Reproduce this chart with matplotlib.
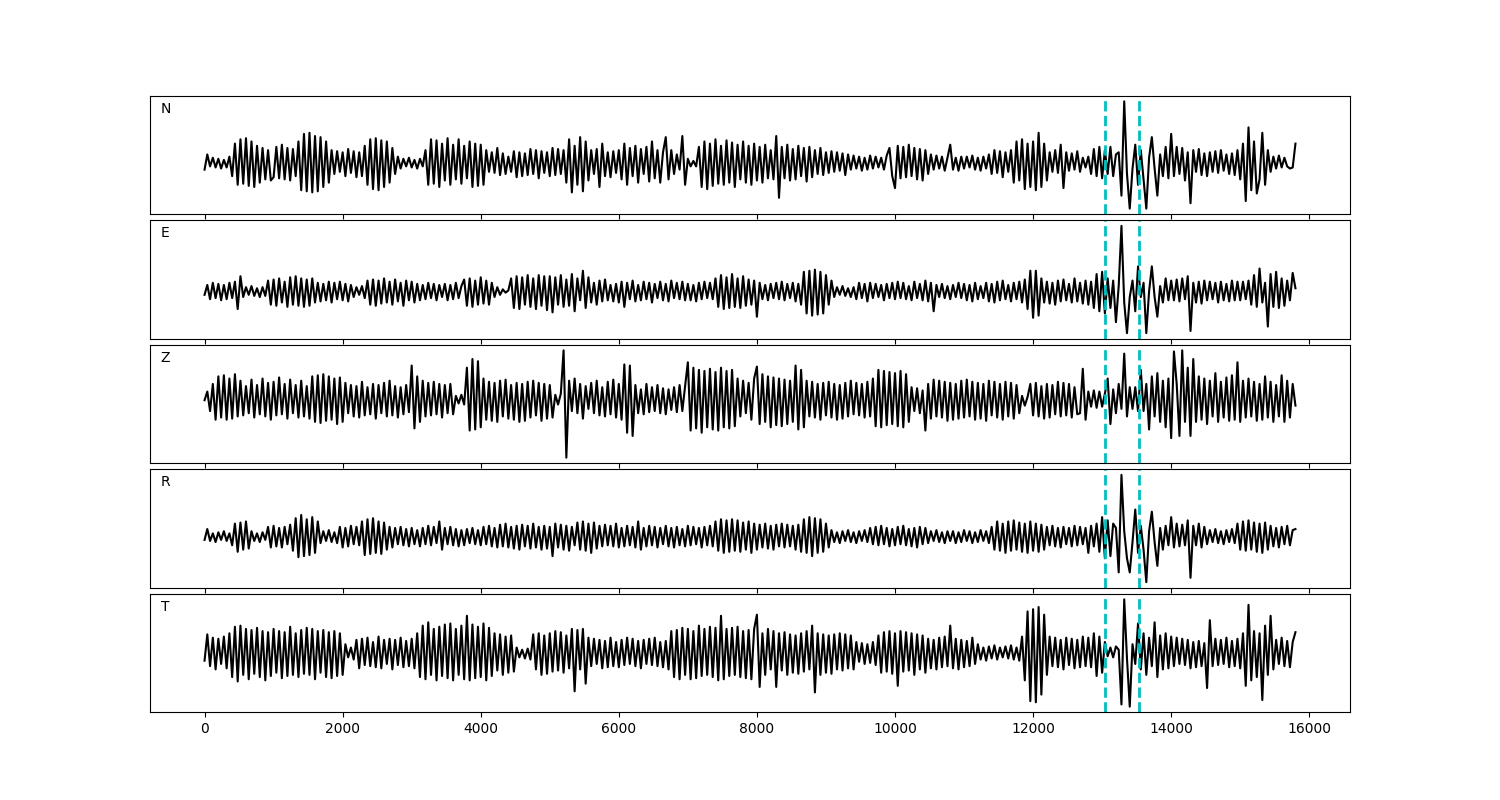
import numpy as np
import matplotlib
matplotlib.use('Agg')
import matplotlib.pyplot as plt

step = 40

# picks (dashed lines)
picks = [13040, 13530]

# component names
comps = ['N', 'E', 'Z', 'R', 'T']

# traces, amplitudes (one row = 1000 samples)
n_trace = [
    -6, 8, -3, 5, -4, 4, -5, 3, -4, 6, -12, 18, -20, 22, -19, 23, -21, 20, -22, 16, -18, 14, -15, 12, -16,
    -13, 15, -14, 17, -15, 14, -16, 13, -12, 20, -25, 27, -26, 28, -27, 25, -26, 24, -22, 20, -18, 12, -10, 11, -8,
    10, -12, 13, -9, 11, -13, 10, -12, 16, -20, 22, -24, 23, -25, 21, -22, 20, -18, 14, -10, 6, -5, 4, -3, 5,
    -4, 3, -5, 4, -3, 12, -20, 22, -19, 21, -22, 18, -16, 23, -20, 17, -15, 22, -19, 16, -14, 20, -22, 18, -21,
    17, -20, 12, -8, 10, -9, 14, -11, 9, -10, 6, -8, 11, -13, 10, -12, 9, -11, 13, -10, 12, -14, 11, -9, 10,
    -12, 14, -11, 13, -10, 12, -18, 22, -27, 16, -20, 24, -26, 20, -16, 12, -10, 13, -22, 18, -12, 10, -13, 11, -9,
    12, -15, 18, -20, 14, -12, 16, -18, 13, -10, 15, -17, 20, -14, 12, -18, 10, 24, -15, 12, -10, 8, -6, 25, -20,
    4, -3, 2, -3, 15, -22, 20, -24, 18, -21, 22, -19, 16, -20, 21, -18, 19, -22, 17, -15, 20, -18, 16, -20, 18,
    -16, 15, -18, 17, -14, 12, -15, 25, -32, 15, -14, 17, -16, 13, -15, 16, -12, 14, -17, 15, -13, 12, -10, 14, -11,
    10, -9, 11, -8, 10, -7, 9, -11, 8, -6, 7, -5, 6, -7, 5, -6, 7, -5, 6, -4, 5, -6, 7, 14, -12,
    -23, 16, -14, 15, -13, 17, -12, 14, -15, 13, -16, 12, -10, 8, -6, 7, -5, 6, -7, 5, 17, -6, 5, -7, 6,
    -5, 6, -4, 7, -6, 5, -7, 6, -5, 8, -10, 12, -9, 11, -13, 10, -8, 12, -18, 20, -16, 22, -24, 18, -22,
    20, -25, 28, -22, 18, -16, 10, -8, 12, -9, 17, -23, 10, -7, 9, -6, 11, -8, 5, -4, 6, -10, 13, -12, 15,
    -14, 12, -10, 15, -12, 8, 10, -30, 57, -10, -42, -5, 17, -20, 12, -15, -42, 5, 24, -5, -30, 8, -12, 15, -14,
    27, -12, 15, -10, 14, -16, 10, -37, 12, -8, 13, -11, 9, -12, 10, -8, 11, -9, 12, -7, 8, -10, 9, -11, 12,
    -15, 18, -35, 33, -25, 20, -28, -15, 28, -20, 12, -8, 6, -5, 7, -4, 5, -3, -5, -4, 18,
]

e_trace = [
    -3, 6, -7, 8, -6, 7, -8, 6, -7, 8, -6, 9, -16, 14, -5, 4, -3, 5, -4, 3, -5, 4, -4, 10, -12,
    11, -13, 12, -10, 9, -14, 13, -12, 14, -13, 12, -14, 11, -13, 12, -10, 8, -9, 7, -8, 9, -10, 8, -7, 9,
    -8, 7, -9, 6, -5, 4, -3, 5, -6, 10, -12, 11, -13, 10, -11, 12, -10, 9, -12, 11, -9, 8, -13, 10, -8,
    9, -10, 7, -8, 6, -7, 8, -6, 7, -8, 6, -5, 7, -8, 6, -7, 8, -6, 5, 11, -13, 12, -14, 10, -12,
    13, -11, 10, -12, 8, -5, 4, -3, 2, -1, 1, 12, -15, 14, -16, 13, -12, 15, -14, 12, -16, 15, -13, 14, -17,
    14, -19, 13, -12, 15, -14, 11, -13, 16, -18, 12, -8, 19, -15, 13, -10, 8, -12, 10, -9, 11, -8, 6, -9, 7,
    -10, 9, -14, 8, -7, 10, -9, 6, -8, 9, -7, 8, -10, 7, -6, 9, -8, 7, -9, 10, -6, 8, -7, 9, -8,
    7, -8, 6, -9, 8, -7, 9, -6, 8, -7, 12, -14, 15, -16, 13, -15, 16, -14, 12, -15, 14, -13, 11, -12, 10,
    -23, 8, -7, 6, -8, 7, -6, 8, -7, 9, -8, 7, -6, 8, -9, 7, -12, 18, -20, 19, -22, 20, -21, 18, -20,
    15, -12, 10, -5, 4, -3, 5, -4, 3, -5, 4, -7, 8, -6, 7, -9, 8, -6, 7, -5, 6, -8, 7, -6, 8,
    -7, 9, -6, 8, -7, 5, -8, 9, -6, 7, -8, 10, -9, 8, -18, 6, -5, 7, -6, 5, -7, 6, -5, 8, -6,
    7, -8, 6, -9, 8, -7, 5, -6, 8, -9, 7, -10, 9, -8, 10, -7, 6, -9, 8, -7, 9, -10, 11, -16, 19,
    -24, 19, -22, 12, -10, 9, -11, 8, -12, 10, -9, 11, -8, 7, -10, 12, -9, 8, -11, 10, -12, 9, -15, 16, -18,
    18, -20, 12, -15, 10, -28, 5, 60, -10, -38, -5, 10, -18, 23, -5, 8, -38, 0, 23, -5, -23, 5, -10, 12, -8,
    10, -8, 11, -9, 12, -7, 14, -36, 8, -10, 9, -11, 10, -8, 9, -7, 8, -10, 9, -8, 7, -9, 10, -8, 9,
    -8, 9, -7, 10, -12, 15, -14, 21, -10, 8, -32, 16, -14, 18, -15, 12, -13, 10, -8, 17, 3,
]

z_trace = [
    0, 8, -10, 15, -18, 22, -16, 23, -18, 20, -17, 24, -15, 18, -14, 13, -12, 19, -16, 14, -13, 20, -15, 16, -18,
    17, -14, 21, -13, 15, -17, 19, -12, 14, -16, 18, -15, 13, -17, 22, -20, 23, -21, 24, -19, 22, -18, 20, -22, 21,
    -20, 16, -12, 14, -15, 13, -16, 17, -14, 12, -13, 15, -17, 14, -12, 16, -15, 18, -14, 13, -16, 12, -13, 14, -11,
    32, -26, 22, -20, 18, -15, 16, -14, 17, -13, 15, -16, 14, -12, 15, -13, 4, -3, 5, -4, 30, -28, 38, -27, 36,
    -25, 20, -18, 17, -19, 16, -20, 18, -15, 19, -17, 14, -18, 16, -20, 15, -19, 17, -16, 18, -14, 16, -19, 15, -17,
    14, -16, 5, -4, 6, 46, -53, 18, -10, 20, -12, 15, -17, 13, -8, 16, -12, 18, -14, 12, -15, 17, -13, 19, -16,
    15, -18, 33, -30, 32, -33, 14, -12, 10, -13, 15, -11, 12, -10, 14, -12, 11, -13, 10, -9, 12, -11, 14, -10, 13,
    35, -28, 30, -26, 28, -30, 27, -25, 29, -27, 26, -28, 30, -25, 27, -26, 28, -24, 20, -15, 18, -12, 16, -18, 20,
    31, -22, 24, -20, 22, -25, 21, -23, 20, -24, 19, -22, 18, -20, 32, -27, 28, -25, 18, -15, 17, -16, 15, -18, 16,
    -14, 17, -16, 15, -18, 14, -17, 16, -15, 18, -13, 16, -14, 15, -16, 17, -15, 20, -24, 28, -25, 27, -23, 26, -22,
    25, -24, 27, -25, 24, -20, 12, -10, 11, -12, 9, -28, 15, -17, 19, -15, 18, -16, 17, -19, 16, -18, 15, -17, 18,
    -16, 19, -15, 17, -18, 16, -17, 15, -19, 18, -14, 17, -16, 15, -18, 17, -15, 16, -17, 14, -12, 4, -5, 3, 15,
    -14, 16, -15, 13, -17, 15, -16, 14, -13, 17, -15, 16, -14, 15, -16, 12, -13, -12, 29, -18, 8, -6, 9, -7, 8,
    -6, 6, 20, -22, 10, -12, 15, -8, 43, -15, 12, -8, 12, -10, 28, -10, 15, -27, 22, -15, 25, -20, 18, -25, 20,
    -35, 45, 15, -33, 46, -20, 30, -33, 38, -20, 22, -18, 20, -22, 18, -15, 25, -20, 17, -16, 21, -19, 23, -18, 35,
    -20, 18, -16, 20, -15, 17, -19, 15, -18, 22, -16, 17, -20, 14, -15, 23, -20, 18, -16, 15, -5,
]

r_trace = [
    -3, 7, -4, 3, -5, 4, -3, 5, -4, 3, -8, 12, -14, 13, -12, 14, -11, 5, -4, 3, -5, 4, -3, 9, -10,
    10, -9, 8, -10, 9, -7, 11, -13, 17, -19, 20, -18, 16, -17, 18, -15, 14, -6, 5, -4, 6, -5, 4, -6, 9,
    -10, 8, -9, 10, -7, 9, -8, 14, -17, 16, -16, 17, -15, 14, -16, 13, -12, 9, -10, 8, -7, 9, -8, 7, -9,
    8, -7, 6, -9, 8, -7, 10, -8, 9, -6, 14, -12, 8, -7, 9, -8, 7, -9, 6, -8, 7, -6, 8, -7, 6,
    -8, 9, -7, 10, -9, 8, -10, 11, -9, 12, -10, 9, -11, 10, -12, 11, -9, 10, -11, 12, -10, 9, -12, 10, -11,
    9, -18, 12, -10, 11, -12, 10, -13, 9, -8, 13, -12, 14, -13, 12, -15, 13, -11, 10, -9, 11, -8, 10, -9, 12,
    -10, 8, -9, 10, -8, 9, -10, 14, -12, 8, -9, 10, -8, 9, -10, 8, -7, 10, -9, 8, -10, 9, -8, 7, -9,
    10, -8, 9, -7, 8, -10, 9, -8, 10, -9, 14, -13, 16, -15, 15, -14, 16, -13, 15, -14, 13, -12, 14, -15, 12,
    -12, 11, -10, 12, -11, 10, -12, 11, -9, 12, -10, 11, -9, 10, -12, 11, -14, 16, -15, 18, -18, 17, -15, 16, -14,
    12, -10, 6, -5, 4, -6, 5, -4, 6, -5, 4, -6, 5, -4, 6, -5, 8, -7, 9, -8, 10, -7, 8, -9, 7,
    -8, 9, -7, 10, -8, 7, -9, 8, -10, 9, -7, 8, -6, 5, -4, 6, -5, 4, -6, 5, -4, 5, -6, 4, -5,
    6, -4, 5, -6, 4, -5, 6, -4, 5, -6, 9, -12, 14, -13, 12, -15, 14, -13, 15, -12, 13, -14, 12, -15, 14,
    -13, 12, -14, 11, -12, 9, -8, 10, -9, 8, -10, 9, -7, 8, -9, 10, -8, 9, -7, 8, -15, 10, -9, 12, -14,
    18, -20, 15, -18, 12, 8, -33, 57, 5, -20, -33, -5, 25, -15, 10, -12, -42, 5, 23, -5, -27, 8, -12, 10, -8,
    18, -10, 12, -9, 11, -8, 15, -38, 10, -8, 12, -10, 9, -7, 6, -5, 7, -6, 5, -7, 6, -5, 7, -6, 12,
    -12, 14, -13, 15, -12, 13, -14, 12, -15, 13, -12, 10, -9, 8, -10, 9, -7, 10, -8, 6, 7,
]

t_trace = [
    -7, 17, -12, 14, -15, 13, -10, 15, -14, 18, -22, 24, -26, 25, -20, 22, -24, 21, -19, 23, -22, 20, -25, 19, -21,
    22, -18, 20, -23, 19, -21, 24, -20, 18, -22, 21, -19, 23, -20, 22, -24, 20, -18, 21, -22, 19, -23, 20, -21, 18,
    -20, 8, -4, 5, -6, 12, -14, 13, -11, 14, -12, 10, -13, 15, -14, 12, -10, 13, -15, 12, -11, 14, -13, 11, -12,
    13, -14, 18, -22, 25, -24, 28, -20, 22, -25, 24, -21, 26, -23, 27, -25, 22, -20, 25, -24, 34, -25, 26, -23, 24,
    -22, 27, -25, 23, -21, 18, -16, 17, -20, 15, -18, 16, -17, 5, -4, 3, -5, 4, -6, 17, -15, 18, -20, 16, -19,
    18, -17, 20, -16, 19, -18, 16, -14, 22, -35, 21, -15, 22, -28, 14, -12, 13, -10, 12, -14, 11, -13, 14, -12, 10,
    -13, 12, -11, 14, -10, 13, -12, 11, -14, 12, -10, 13, -11, 14, -12, 10, -13, 11, -15, 20, -22, 21, -24, 23, -20,
    22, -24, 20, -23, 25, -21, 22, -20, 24, -22, 23, -25, 34, -24, 22, -21, 23, -20, 24, -22, 20, -23, 21, -24, 22,
    35, -31, 18, -20, 22, -15, 20, -31, 18, -16, 19, -20, 17, -18, 16, -19, 18, -17, 20, -15, 25, -36, 18, -20, 17,
    -18, 16, -19, 17, -15, 18, -16, 17, -14, 16, -15, 10, -8, 9, -10, 8, -9, 10, -11, 16, -18, 19, -17, 20, -19,
    18, -30, 20, -17, 19, -16, 18, -20, 17, -15, 16, -18, 13, -14, 12, -15, 14, -13, 15, -12, 25, -14, 13, -15, 12,
    -13, 11, -12, 14, -10, 8, -6, 5, -7, 6, -5, 7, -6, 5, -4, 6, -5, 7, -6, 5, -7, 15, -25, 38, -44,
    40, -45, 42, -38, 35, -20, 15, -12, 14, -13, 12, -15, 14, -11, 13, -14, 12, -13, 15, -12, 14, -13, 18, -21, 15,
    -18, 10, -3, 5, -4, 6, 3, -47, 49, -5, -49, 8, -10, 27, -15, 18, -20, 14, -12, 28, -22, 16, -15, 18, -14,
    15, -12, 14, -10, 13, -11, 12, -14, 10, -13, 11, -12, 9, -32, 30, -12, 13, -11, 12, -10, 14, -13, 11, -12, 13,
    -14, 18, -30, 44, -25, 20, -22, 18, -43, 25, -20, 34, -15, 12, -10, 14, -12, 11, -13, 10, 19,
]

traces = [n_trace, e_trace, z_trace, r_trace, t_trace]

fig, axes = plt.subplots(5, 1, figsize=(15, 8), sharex=True)
fig.subplots_adjust(left=0.1, right=0.9, top=0.88, bottom=0.11, hspace=0.055)

for ax, name, tr in zip(axes, comps, traces):
    x = np.arange(len(tr)) * step
    ax.plot(x, tr, color='k', lw=1.5)
    for p in picks:
        ax.axvline(p, color='c', ls='--', lw=2)
    ax.set_yticks([])
    ax.text(0.009, 0.95, name, transform=ax.transAxes, ha='left', va='top', fontsize=10)

plt.savefig('out.png', dpi=100)
